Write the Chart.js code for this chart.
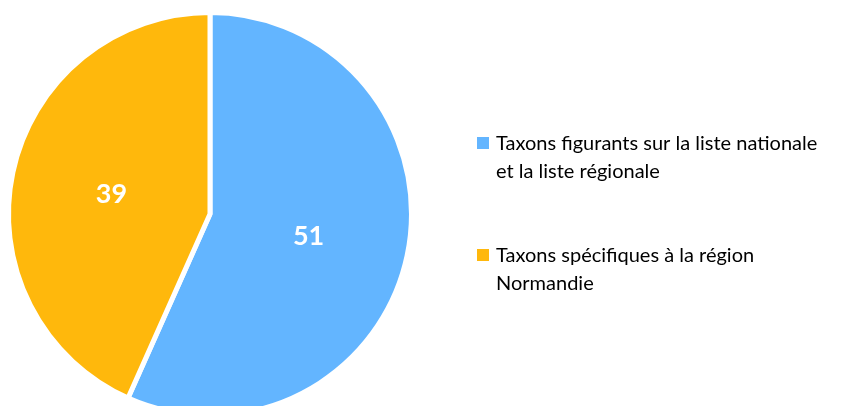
<!DOCTYPE html>
<html>
<head>
<meta charset="utf-8">
<script src="https://cdn.jsdelivr.net/npm/chart.js@4.4.1/dist/chart.umd.min.js"></script>
<style>
  html, body { margin: 0; padding: 0; background: #fff; overflow: hidden; }
  #wrap { width: 862px; height: 440px; }
</style>
</head>
<body>
<div id="wrap"><canvas id="chart"></canvas></div>
<script>
const categories = [
  ['Taxons figurants sur la liste nationale', 'et la liste régionale'],
  ['Taxons spécifiques à la région', 'Normandie']
];
const values = [51, 39];
const colors = ['rgb(99,181,255)', 'rgb(255,184,12)'];

// value labels in the middle of each slice
const sliceLabels = {
  id: 'sliceLabels',
  afterDatasetsDraw(chart) {
    const ctx = chart.ctx;
    const meta = chart.getDatasetMeta(0);
    ctx.save();
    ctx.fillStyle = '#fff';
    ctx.font = 'bold 27px Lato, "Liberation Sans", sans-serif';
    ctx.textAlign = 'center';
    ctx.textBaseline = 'middle';
    meta.data.forEach((arc, i) => {
      const p = arc.getCenterPoint();
      ctx.fillText(String(values[i]), p.x, p.y + 1);
    });
    ctx.restore();
  }
};

// legend on the right, text wraps onto two lines
const sideLegend = {
  id: 'sideLegend',
  afterDraw(chart) {
    const ctx = chart.ctx;
    const x = 477, lineH = 28;
    const tops = [150, 262];
    ctx.save();
    ctx.font = '20px Lato, "Liberation Sans", sans-serif';
    ctx.textBaseline = 'alphabetic';
    categories.forEach((lines, i) => {
      ctx.fillStyle = colors[i];
      ctx.fillRect(x, tops[i] - 13, 12, 12);
      ctx.fillStyle = '#000';
      lines.forEach((t, j) => ctx.fillText(t, x + 19, tops[i] + j * lineH));
    });
    ctx.restore();
  }
};

new Chart(document.getElementById('chart'), {
  type: 'pie',
  data: {
    labels: categories.map(c => c.join(' ')),
    datasets: [{
      data: values,
      backgroundColor: colors,
      borderColor: '#fff',
      borderWidth: 5
    }]
  },
  options: {
    responsive: true,
    maintainAspectRatio: false,
    animation: false,
    layout: { padding: { left: 6, top: 10, right: 448, bottom: 22 } },
    plugins: {
      legend: { display: false },
      tooltip: { enabled: false }
    }
  },
  plugins: [sliceLabels, sideLegend]
});
</script>
</body>
</html>
